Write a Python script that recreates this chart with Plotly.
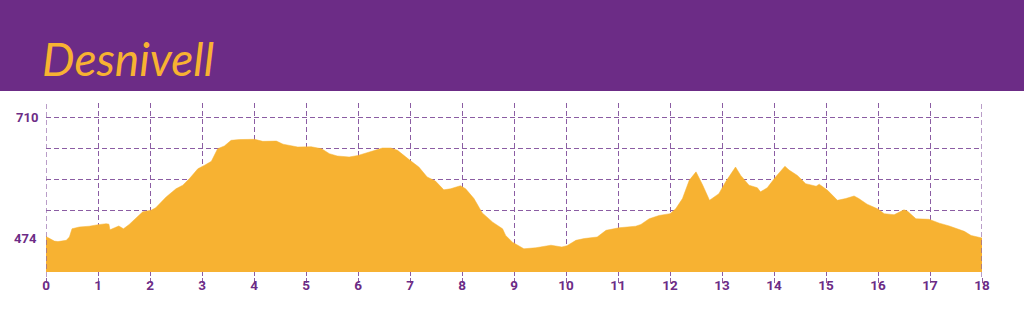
import plotly.graph_objects as go

# distance (km) and elevation (m)
km = [0.0, 0.16, 0.23, 0.39, 0.45, 0.5, 0.64, 0.83, 1.0, 1.16, 1.21, 1.23, 1.32, 1.4, 1.49,
      1.6, 1.86, 2.02, 2.11, 2.31, 2.5, 2.63, 2.76, 2.92, 3.05, 3.18, 3.3, 3.43, 3.56, 3.72,
      4.01, 4.17, 4.43, 4.56, 4.84, 5.1, 5.3, 5.45, 5.6, 5.83, 6.0, 6.21, 6.47, 6.63, 6.76,
      7.0, 7.17, 7.33, 7.49, 7.65, 7.78, 7.97, 8.07, 8.23, 8.39, 8.59, 8.78, 8.84, 8.97,
      9.19, 9.42, 9.71, 9.8, 9.92, 10.02, 10.19, 10.35, 10.48, 10.6, 10.77, 11.02, 11.34,
      11.44, 11.6, 11.79, 12.0, 12.11, 12.24, 12.37, 12.5, 12.63, 12.76, 12.94, 13.07,
      13.26, 13.36, 13.52, 13.68, 13.74, 13.87, 14.03, 14.21, 14.29, 14.45, 14.61, 14.81,
      14.87, 15.03, 15.22, 15.38, 15.54, 15.63, 15.79, 15.99, 16.12, 16.31, 16.5, 16.57,
      16.73, 16.98, 17.18, 17.37, 17.66, 17.79, 17.98, 18.0]
elev = [477, 468, 467, 469.5, 476, 492, 495.5, 497, 500, 502, 501, 490, 494, 497.5, 492,
        500.5, 525, 528, 533, 554, 570, 577, 590, 609, 616, 623.5, 648, 653.5, 664.5, 666,
        666.5, 662.5, 663, 657, 651.5, 652, 648, 638.5, 634, 632, 635, 642, 649.5, 649.5, 645,
        625.5, 612.5, 593, 585, 568, 570, 576, 570, 551, 523, 505, 492, 479, 466,
        453, 455, 460, 459, 456.5, 459, 469.5, 473, 474.5, 476, 489, 494, 497,
        500.5, 511.5, 518, 521.5, 531, 551, 586.5, 603, 577, 547.5, 560.5, 583.5,
        612.5, 596, 577, 572, 564, 572, 593, 614, 606.5, 596, 580, 575,
        579, 567, 547.5, 551, 556, 551, 540, 531, 521.5, 519.5, 529, 526,
        511.5, 510.5, 503, 497.5, 487, 479, 474, 474]

base_elev = 407.7          # bottom of the filled profile
x_ticks = list(range(0, 19))
y_grid = [527, 588, 649, 710]
y_low_label = 474
title_text = "Desnivell"

PURPLE = "#6c2c86"
GRID = "#8b5da3"
GOLD = "#f7b232"
YRANGE = [398, 737.3]
DASH = "5px,3px"

fig = go.Figure()
fig.add_trace(go.Scatter(
    x=[km[0], km[-1]], y=[base_elev, base_elev], mode="lines",
    line=dict(width=0, color=GOLD), hoverinfo="skip", showlegend=False,
))
fig.add_trace(go.Scatter(
    x=km, y=elev, mode="lines", fill="tonexty", fillcolor=GOLD,
    line=dict(color=GOLD, width=0.5), hoverinfo="skip", showlegend=False,
))

fig.update_layout(
    width=1024, height=333, autosize=False,
    margin=dict(l=46, r=42, t=103, b=56, pad=0),
    paper_bgcolor="white", plot_bgcolor="white",
    xaxis=dict(
        range=[0, 18], tickvals=x_ticks, ticktext=[str(v) for v in x_ticks],
        showgrid=True, gridcolor=GRID, gridwidth=1.2, griddash=DASH,
        zeroline=False, showline=False,
        ticks="outside", ticklen=5, tickcolor=GRID, tickwidth=1.2,
        ticklabelstandoff=-9,
        tickfont=dict(family="Roboto", size=13.5, color=PURPLE, weight="bold"),
    ),
    yaxis=dict(
        range=YRANGE, tickvals=y_grid, ticktext=["", "", "", "710"],
        showgrid=True, gridcolor=GRID, gridwidth=1.2, griddash=DASH,
        zeroline=False, showline=False,
        ticks="outside", ticklen=4, tickcolor="rgba(0,0,0,0)",
        tickfont=dict(family="Roboto", size=13, color=PURPLE, weight="bold"),
    ),
)

# dashed grid lines at both ends of the distance axis
for xv in (x_ticks[0], x_ticks[-1]):
    fig.add_shape(type="line", xref="x", yref="paper", x0=xv, x1=xv, y0=0, y1=1,
                  line=dict(color=GRID, width=1.2, dash=DASH), layer="above")

# lower elevation label
fig.add_annotation(
    text=str(y_low_label), xref="paper", yref="y", x=0, y=y_low_label,
    xanchor="right", yanchor="middle", xshift=-7, showarrow=False,
    font=dict(family="Roboto", size=13, color=PURPLE, weight="bold"),
)

# purple header band
fig.add_shape(type="rect", xref="paper", yref="paper",
              x0=-1, x1=2, y0=(277 - 91) / 174, y1=2.5,
              fillcolor=PURPLE, line=dict(width=0), layer="above")

fig.add_annotation(
    text=title_text, xref="paper", yref="paper",
    x=-6 / 936, y=(277 - 58) / 174, xanchor="left", yanchor="middle",
    showarrow=False,
    font=dict(family="Lato", size=46, color=GOLD, style="italic"),
)

fig.write_html("out.html")
